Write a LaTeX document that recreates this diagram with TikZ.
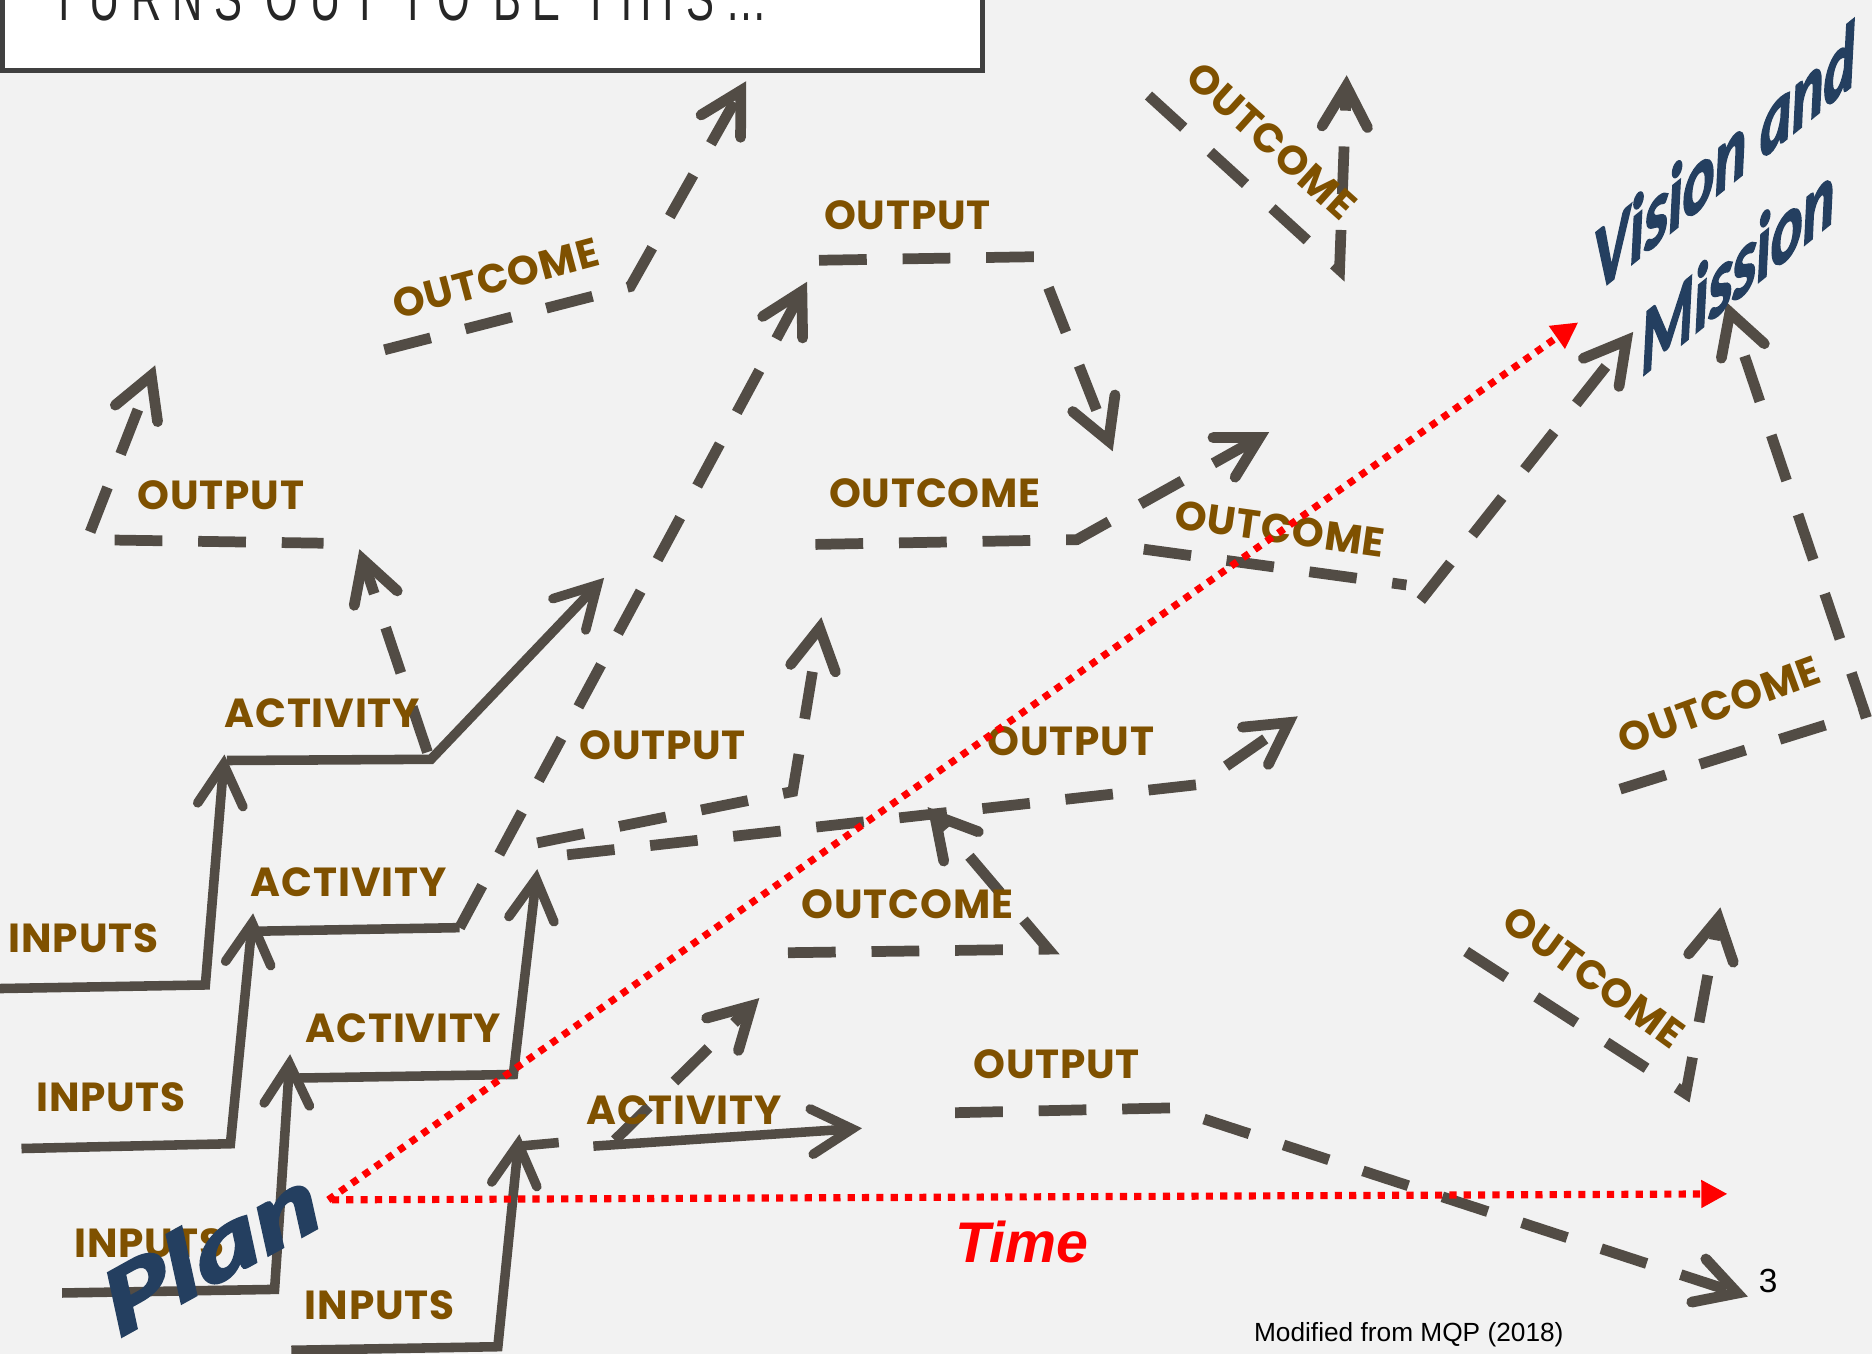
\documentclass[tikz,border=0pt]{standalone}
\usepackage{fontspec}
\usetikzlibrary{arrows.meta}

\definecolor{bgray}{HTML}{F2F2F2}
\definecolor{linegray}{HTML}{524C45}
\definecolor{labbrown}{HTML}{7F5100}
\definecolor{titleblue}{HTML}{243F60}
\definecolor{boxedge}{HTML}{404040}

\newfontfamily\labfont[LetterSpace=2]{Poppins}
\newfontfamily\bluefont[BoldItalicFeatures={FakeBold=2.5}]{Carlito}
\newfontfamily\arialfont{Liberation Sans}
\newfontfamily\headfont[FakeStretch=0.65,LetterSpace=18]{Liberation Sans}

\tikzset{
  pathline/.style={draw=linegray,line width=8pt},
  solidarr/.style={pathline,-{Straight Barb[length=34pt,width=38pt,line cap=round]}},
  dasharr/.style={solidarr,line width=9pt,dash pattern=on 40pt off 30pt},
  dashline/.style={pathline,line width=9pt,dash pattern=on 40pt off 30pt},
  lab/.style={text=labbrown,font=\labfont\bfseries\fontsize{34}{34}\selectfont,inner sep=0pt},
  redline/.style={draw=red,line width=6pt,dash pattern=on 6pt off 6pt,-{Triangle[length=22pt,width=22pt]}},
  bigblue/.style={text=titleblue,font=\bluefont\bfseries\itshape\fontsize{65}{65}\selectfont,inner sep=0pt},
}

\begin{document}
\begin{tikzpicture}[x=1pt,y=-1pt]

\useasboundingbox[fill=bgray] (0,0) rectangle (1568,1134);

% heading box
\draw[draw=boxedge,fill=white,line width=4pt] (2,-30) rectangle (823,59);
\node[anchor=base west,text=black!85,font=\headfont\fontsize{54}{54}\selectfont] (head) at (40,17) {TURNS OUT TO BE THIS…};

% stairs
\draw[solidarr] (0,828) -- (172,825) -- (188,632);
\draw[solidarr] (190,637) -- (361,636) -- (506,484);
\draw[solidarr] (18,962) -- (193,958) -- (212,765);
\draw[pathline] (214,780) -- (385,777);
\draw[solidarr] (52,1083) -- (230,1080) -- (243,883);
\draw[solidarr] (248,903) -- (430,900) -- (450,728);
\draw[solidarr] (244,1131) -- (417,1128) -- (435,950);
\draw[pathline] (435,960) -- (468,957);
\draw[solidarr] (497,960) -- (722,945);

% dashed routes
\draw[dasharr] (358,630) -- (301,460);
\draw[dasharr,dash phase=5pt] (271,455) -- (73,452) -- (130,306);
\draw[dasharr] (385,777) -- (676,236);
\draw[dasharr] (686,218) -- (868,215) -- (932,378);
\draw[dasharr] (322,293) -- (528,240) -- (625,68);
\draw[dasharr] (683,456) -- (902,452) -- (1063,362);
\draw[dashline] (958,460) -- (1178,490);
\draw[dasharr] (1190,503) -- (1368,278);
\draw[dasharr] (1357,661) -- (1562,597) -- (1446,253);
\draw[dasharr] (962,80) -- (1122,226) -- (1128,63);
\draw[dasharr] (450,706) -- (664,663) -- (688,517);
\draw[dasharr] (475,716) -- (1005,657) -- (1087,600);
\draw[dasharr] (660,798) -- (878,795) -- (777,676);
\draw[dasharr] (515,955) -- (636,836);
\draw[dasharr] (800,932) -- (980,928) -- (1464,1086);
\draw[dasharr] (1228,797) -- (1412,916) -- (1441,760);

% labels
\node[lab] (outa) at (185,415) {OUTPUT};
\node[lab] (acta) at (270,597) {ACTIVITY};
\node[lab] (inpa) at (70,786) {INPUTS};
\node[lab] (actb) at (292,739) {ACTIVITY};
\node[lab] (inpb) at (93,919) {INPUTS};
\node[lab] (actc) at (338,861) {ACTIVITY};
\node[lab] (inpc) at (125,1041) {INPUTS};
\node[lab] (inpd) at (318,1093) {INPUTS};
\node[lab] (actd) at (573,930) {ACTIVITY};
\node[lab] (outb) at (555,624) {OUTPUT};
\node[lab] (outc) at (760,180) {OUTPUT};
\node[lab] (outd) at (897,621) {OUTPUT};
\node[lab] (oute) at (885,891) {OUTPUT};
\node[lab,rotate=15] (ocma) at (415,233) {OUTCOME};
\node[lab] (ocmb) at (783,413) {OUTCOME};
\node[lab,rotate=-8] (ocmc) at (1072,443) {OUTCOME};
\node[lab,rotate=-42] (ocmd) at (1065,118) {OUTCOME};
\node[lab] (ocme) at (760,757) {OUTCOME};
\node[lab,rotate=-36] (ocmf) at (1335,818) {OUTCOME};
\node[lab,rotate=20] (ocmg) at (1440,590) {OUTCOME};

% time lines
\draw[redline] (275,1005) -- (1322,270);
\draw[redline] (278,1005) -- (1447,1000);

\node[bigblue,anchor=base,cm={0.777,0.629,-0.03,1.18,(0,0)}] (vision) at (1445,158) {Vision and};
\node[bigblue,anchor=base,cm={0.777,0.629,-0.03,1.18,(0,0)}] (mission) at (1456,250) {Mission};
\node[bigblue,anchor=base,cm={0.875,0.485,-0.272,0.701,(0,0)},font=\bluefont\bfseries\itshape\fontsize{108}{108}\selectfont] (plan) at (186,1073) {Plan};
\node[text=red,font=\arialfont\bfseries\itshape\fontsize{48}{48}\selectfont] (time) at (856,1040) {Time};
\node[font=\arialfont\fontsize{22}{22}\selectfont] (src) at (1180,1118) {Modified from MQP (2018)};
\node[font=\arialfont\fontsize{28}{28}\selectfont] (pgno) at (1481,1073) {3};

\end{tikzpicture}
\end{document}
